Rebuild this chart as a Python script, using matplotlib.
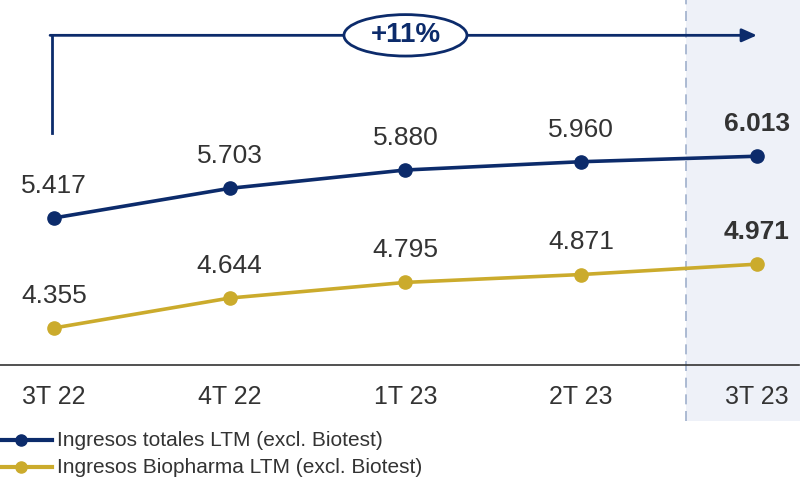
import matplotlib
matplotlib.use("Agg")
import matplotlib.pyplot as plt
from matplotlib.patches import Ellipse, Rectangle

NAVY = "#0c2b6b"; GOLD = "#cbab2c"; INK = "#333333"; SHADE = "#eef1f8"; DASH = "#9fb0cc"

quarters = ["3T 22", "4T 22", "1T 23", "2T 23", "3T 23"]
total = [5.417, 5.703, 5.880, 5.960, 6.013]
biopharma = [4.355, 4.644, 4.795, 4.871, 4.971]
total_lbl = "Ingresos totales LTM (excl. Biotest)"
bio_lbl = "Ingresos Biopharma LTM (excl. Biotest)"
growth = "+11%"

plt.rcParams["font.family"] = ["Liberation Sans", "DejaVu Sans"]

fig = plt.figure(figsize=(8, 4.84), dpi=100)
ax = fig.add_axes([0, 0, 1, 1])
ax.set_xlim(-0.307, 4.245)
ax.set_ylim(2.849, 7.521)
ax.axis("off")

xs = list(range(len(quarters)))

# shaded last-quarter band + dashed separator
ax.add_patch(Rectangle((3.595, 3.46), 1.0, 5.0, fc=SHADE, ec="none", zorder=0))
ax.plot([3.595, 3.595], [3.46, 7.6], color=DASH, lw=1.2, ls=(0, (6, 4)), zorder=1)

# base line
ax.plot([-0.31, 4.24], [3.998, 3.998], color=INK, lw=1.2, zorder=1)

for i, q in enumerate(quarters):
    ax.text(i, 3.69, q, ha="center", va="center", fontsize=18, color=INK)

for ys, col in [(total, NAVY), (biopharma, GOLD)]:
    ax.plot(xs, ys, color=col, lw=2.6, marker="o", ms=9.5, zorder=3)
    for i, v in enumerate(ys):
        last = i == len(ys) - 1
        ax.text(i, v + 0.31, f"{v:.3f}", ha="center", va="center",
                fontsize=19 if not last else 19, color=INK,
                fontweight="bold" if last else "normal")

# growth arrow
ax.plot([-0.011, -0.011], [6.24, 7.18], color=NAVY, lw=2, zorder=2)
ax.annotate("", xy=(4.0, 7.18), xytext=(-0.022, 7.18),
            arrowprops=dict(arrowstyle="-|>,head_length=0.9,head_width=0.4",
                            color=NAVY, lw=2, shrinkA=0, shrinkB=0), zorder=2)
ax.add_patch(Ellipse((2.0, 7.18), 0.70, 0.40, fc="white", ec=NAVY, lw=2, zorder=4))
ax.text(2.0, 7.18, growth, ha="center", va="center", fontsize=20,
        fontweight="bold", color=NAVY, zorder=5)

# legend
for ly, col, lbl in [(3.27, NAVY, total_lbl), (3.01, GOLD, bio_lbl)]:
    ax.plot([-0.307, -0.012], [ly, ly], color=col, lw=3, zorder=3)
    ax.plot([-0.19], [ly], color=col, marker="o", ms=8, zorder=3)
    ax.text(0.02, ly, lbl, ha="left", va="center", fontsize=15, color=INK)

fig.savefig("out.png", dpi=100)
